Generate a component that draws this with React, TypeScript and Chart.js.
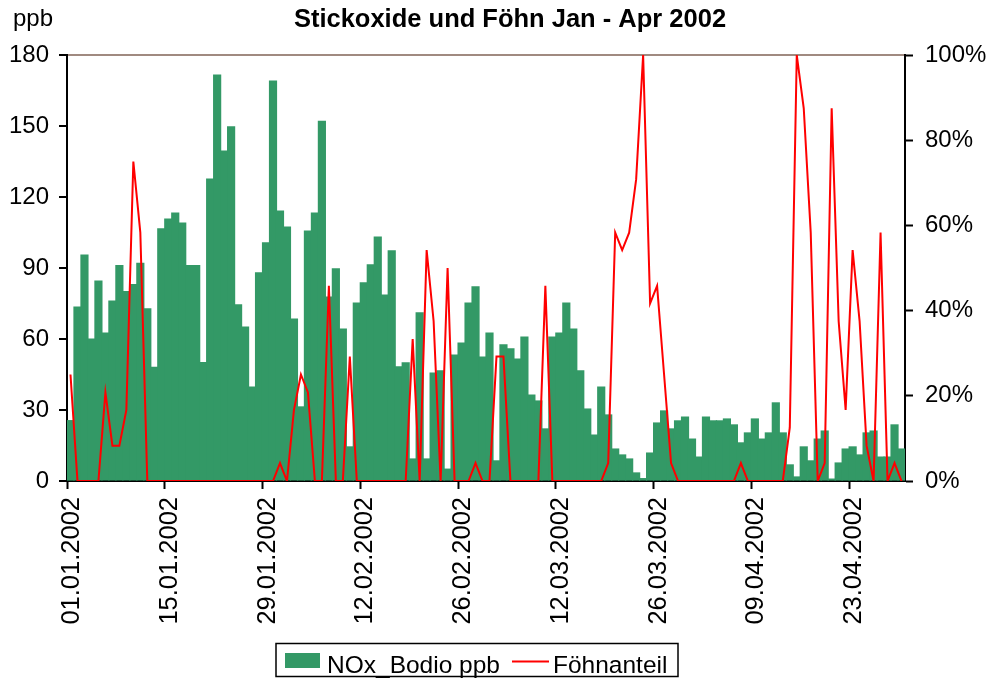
import React, { useEffect, useRef } from 'react';
import { Chart, registerables } from 'chart.js';

Chart.register(...registerables);

// ---- data ----
const chartTitle = 'Stickoxide und Föhn Jan - Apr 2002';
const leftAxisUnit = 'ppb';
const seriesNames = ['NOx_Bodio ppb', 'Föhnanteil'];

// categories: every day from 01.01.2002 to 30.04.2002
const monthLengths = [31, 28, 31, 30];
const days: string[] = [];
monthLengths.forEach((len, m) => {
  for (let d = 1; d <= len; d++) {
    days.push(`${String(d).padStart(2, '0')}.${String(m + 1).padStart(2, '0')}.2002`);
  }
});

const tickLabels = [
  '01.01.2002', '15.01.2002', '29.01.2002', '12.02.2002', '26.02.2002',
  '12.03.2002', '26.03.2002', '09.04.2002', '23.04.2002',
];

// NOx Bodio (ppb), daily
const noxBodio = [
  25.5, 73.5, 95.5, 60, 84.5, 62.5, 76, 91, 80, 83,
  92, 72.7, 48, 106.5, 110.7, 113.2, 109, 91, 91, 50,
  127.6, 171.5, 139.4, 149.6, 74.4, 65, 39.7, 87.9, 100.6, 169,
  114, 107.3, 68.4, 31.3, 105.6, 113.2, 152, 77.7, 89.6, 64.2,
  14.4, 75.2, 83.7, 91.3, 103.1, 78.6, 97.2, 48.2, 49.9, 9.3,
  71, 9.3, 45.6, 46.5, 5, 53.2, 58.3, 75.2, 82, 52.4,
  62.5, 8.5, 57.5, 55.8, 51.5, 60.8, 36.3, 33.8, 22, 60.8,
  62.5, 75.2, 64.2, 46.5, 30.4, 19.4, 39.7, 27.9, 13.5, 11,
  9.3, 3.4, 1, 11.8, 24.5, 29.6, 22, 25.4, 27, 17.7,
  10.1, 27, 25.4, 25.4, 26.2, 23.7, 16.1, 20.3, 26.2, 17.7,
  20.3, 33, 20.3, 6.8, 1.7, 14.4, 8.5, 17.7, 21.1, 0.8,
  7.6, 13.5, 14.4, 11, 20.3, 21.1, 10.1, 10.1, 23.7, 13.5,
];

// Föhnanteil (%), daily
const foehnAnteil = [
  25, 0, 0, 0, 0, 20.8, 8.3, 8.3, 16.7, 75,
  58.3, 0, 0, 0, 0, 0, 0, 0, 0, 0,
  0, 0, 0, 0, 0, 0, 0, 0, 0, 0,
  4.2, 0, 16.7, 25, 20.8, 0, 0, 45.8, 0, 0,
  29.2, 0, 0, 0, 0, 0, 0, 0, 0, 33.3,
  0, 54.2, 37.5, 0, 50, 0, 0, 0, 4.2, 0,
  0, 29.2, 29.2, 0, 0, 0, 0, 0, 45.8, 0,
  0, 0, 0, 0, 0, 0, 0, 4.2, 58.3, 54.2,
  58.3, 70.8, 100, 41.7, 45.8, 25, 4.2, 0, 0, 0,
  0, 0, 0, 0, 0, 0, 4.2, 0, 0, 0,
  0, 0, 0, 12.5, 100, 87.5, 58.3, 0, 4.2, 87.5,
  37.5, 16.7, 54.2, 37.5, 8.3, 0, 58.3, 0, 4.2, 0,
];

const leftTicks = { min: 0, max: 180, step: 30 };
const rightTicks = { min: 0, max: 100, step: 20 };

// ---- styles ----
const FONT = '"Liberation Sans", Arial, sans-serif';
const GREEN = '#339966';
const RED = '#ff0000';
const TOP_LINE = '#a08a80';

const decorPlugin = {
  id: 'decor',
  afterDraw(chart: any) {
    const { ctx } = chart;
    ctx.save();
    ctx.fillStyle = '#000';
    // title
    ctx.font = `bold 25.5px ${FONT}`;
    ctx.textAlign = 'center';
    ctx.textBaseline = 'alphabetic';
    ctx.fillText(chartTitle, 510, 27);
    // unit label
    ctx.font = `24px ${FONT}`;
    ctx.textAlign = 'left';
    ctx.fillText(leftAxisUnit, 13, 26);
    // legend
    ctx.lineWidth = 1.5;
    ctx.strokeStyle = '#000';
    ctx.strokeRect(276, 643.5, 402, 33);
    ctx.fillStyle = GREEN;
    ctx.fillRect(285, 653, 35, 15);
    ctx.strokeStyle = RED;
    ctx.lineWidth = 2;
    ctx.beginPath();
    ctx.moveTo(512, 661.5);
    ctx.lineTo(549, 661.5);
    ctx.stroke();
    ctx.fillStyle = '#000';
    ctx.font = `24.5px ${FONT}`;
    ctx.fillText(seriesNames[0], 327, 673);
    ctx.fillText(seriesNames[1], 553, 673);
    ctx.restore();
  },
};

export default function App() {
  const ref = useRef<HTMLCanvasElement>(null);
  useEffect(() => {
    if (!ref.current) return;
    const isTick = (i: number) => tickLabels.includes(days[i]);
    const chart = new Chart(ref.current, {
      type: 'bar',
      data: {
        labels: days,
        datasets: [
          {
            type: 'bar',
            label: seriesNames[0],
            data: noxBodio,
            backgroundColor: GREEN,
            borderWidth: 0,
            inflateAmount: 0.6,
            barPercentage: 1,
            categoryPercentage: 1,
            yAxisID: 'y',
            order: 2,
          } as any,
          {
            type: 'line',
            label: seriesNames[1],
            data: foehnAnteil,
            borderColor: RED,
            borderWidth: 2,
            pointRadius: 0,
            tension: 0,
            yAxisID: 'y1',
            order: 1,
          } as any,
        ],
      },
      options: {
        responsive: false,
        animation: false,
        layout: { padding: { top: 55, left: 0, right: 0, bottom: 0 } },
        plugins: {
          legend: { display: false },
          title: { display: false },
          tooltip: { enabled: false },
        },
        scales: {
          x: {
            type: 'category',
            offset: true,
            grid: {
              offset: true,
              drawOnChartArea: false,
              drawTicks: true,
              tickLength: 8,
              tickWidth: 2,
              tickColor: (c: any) => (isTick(c.index) ? '#000' : 'rgba(0,0,0,0)'),
            },
            border: { display: true, color: '#000', width: 2 },
            ticks: {
              autoSkip: false,
              minRotation: 90,
              maxRotation: 90,
              padding: 8,
              labelOffset: 1.5,
              color: '#000',
              font: { family: FONT, size: 25.5 },
              callback: (_v: any, i: number) => (isTick(i) ? days[i] : ''),
            },
            afterFit: (s: any) => { s.height = 198; },
          },
          y: {
            position: 'left',
            min: leftTicks.min,
            max: leftTicks.max,
            grid: {
              drawOnChartArea: true,
              color: (c: any) => (c.tick && c.tick.value === leftTicks.max ? TOP_LINE : 'rgba(0,0,0,0)'),
              lineWidth: 2,
              tickLength: 8,
              tickWidth: 2,
              tickColor: '#000',
            },
            border: { display: true, color: '#000', width: 2 },
            ticks: {
              stepSize: leftTicks.step,
              padding: 10,
              color: '#000',
              font: { family: FONT, size: 24 },
            },
            afterFit: (s: any) => { s.width = 67; },
          },
          y1: {
            position: 'right',
            min: rightTicks.min,
            max: rightTicks.max,
            grid: {
              drawOnChartArea: false,
              tickLength: 8,
              tickWidth: 2,
              tickColor: '#000',
            },
            border: { display: true, color: '#000', width: 2 },
            ticks: {
              stepSize: rightTicks.step,
              padding: 12,
              color: '#000',
              font: { family: FONT, size: 24 },
              callback: (v: any) => `${v}%`,
            },
            afterFit: (s: any) => { s.width = 86; },
          },
        },
      },
      plugins: [decorPlugin],
    });
    return () => chart.destroy();
  }, []);
  return (
    <div style={{ position: 'absolute', left: 0, top: 0, width: 991, height: 679, background: '#fff' }}>
      <canvas ref={ref} width={991} height={679} style={{ display: 'block' }} />
    </div>
  );
}
